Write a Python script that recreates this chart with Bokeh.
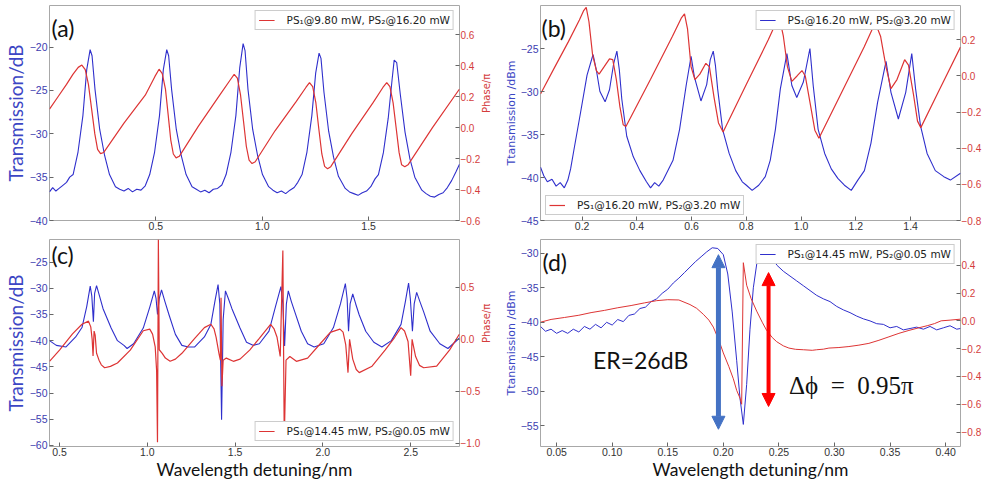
import math
from bokeh.plotting import figure
from bokeh.models import (Range1d, LinearAxis, FixedTicker, Legend, LegendItem, Label,
                          Arrow, NormalHead, CustomJSTickFormatter)
from bokeh.layouts import column, row
from bokeh.embed import file_html
from bokeh.resources import INLINE

# ---------------- data: panel (a) ----------------
a_blue_x = [0.000, 0.015, 0.030, 0.045, 0.060, 0.080, 0.095, 0.111, 0.134, 0.157, 0.175, 0.191, 0.200, 0.214,
            0.236, 0.259, 0.282, 0.310, 0.330, 0.350, 0.370, 0.390, 0.410, 0.430, 0.450, 0.471, 0.494, 0.517,
            0.535, 0.551, 0.560, 0.574, 0.596, 0.619, 0.642, 0.670, 0.690, 0.710, 0.730, 0.750, 0.770, 0.790,
            0.810, 0.830, 0.853, 0.876, 0.894, 0.910, 0.919, 0.933, 0.955, 0.978, 1.001, 1.030, 1.050, 1.070,
            1.090, 1.110, 1.130, 1.150, 1.167, 1.187, 1.210, 1.233, 1.251, 1.267, 1.276, 1.290, 1.312, 1.335,
            1.358, 1.390, 1.410, 1.430, 1.450, 1.470, 1.490, 1.510, 1.530, 1.546, 1.569, 1.592, 1.610, 1.620,
            1.632, 1.649, 1.671, 1.694, 1.717, 1.750, 1.770, 1.790, 1.810, 1.830, 1.850, 1.870, 1.890, 1.910,
            1.927]
a_blue_db = [-36.7, -36.2, -36.6, -36.3, -36.0, -35.6, -35.0, -34.7, -32.1, -27.9, -22.6, -20.3, -21.0, -24.9,
             -29.5, -32.5, -34.7, -36.1, -36.4, -36.6, -36.3, -36.7, -36.4, -36.5, -36.0, -34.7, -32.1, -27.9,
             -22.6, -20.3, -21.0, -24.9, -29.5, -32.5, -34.7, -36.1, -36.4, -36.7, -36.5, -36.8, -36.4, -36.3,
             -35.9, -34.7, -32.1, -27.9, -22.4, -19.6, -20.4, -24.9, -29.5, -32.5, -34.7, -36.1, -36.5, -36.8,
             -36.6, -36.9, -36.5, -36.2, -35.6, -34.7, -32.1, -27.9, -23.0, -20.7, -21.3, -25.2, -29.7, -32.7,
             -34.9, -36.3, -36.7, -36.9, -37.1, -36.8, -36.6, -36.1, -35.2, -34.7, -32.2, -28.2, -23.8, -21.5,
             -21.8, -25.5, -29.8, -32.9, -35.0, -36.5, -36.9, -37.2, -37.3, -37.0, -36.8, -36.2, -35.4, -34.4,
             -33.5]
a_red_x = [0.000, 0.040, 0.080, 0.110, 0.135, 0.152, 0.168, 0.183, 0.198, 0.213, 0.226, 0.240, 0.255, 0.350,
           0.450, 0.495, 0.515, 0.530, 0.545, 0.558, 0.570, 0.582, 0.595, 0.610, 0.700, 0.800, 0.850, 0.868,
           0.883, 0.898, 0.912, 0.925, 0.938, 0.952, 0.967, 1.060, 1.160, 1.205, 1.222, 1.237, 1.252, 1.266,
           1.280, 1.293, 1.307, 1.322, 1.420, 1.520, 1.567, 1.585, 1.600, 1.615, 1.630, 1.643, 1.655, 1.670,
           1.685, 1.800, 1.927]
a_red_ph = [0.120, 0.200, 0.280, 0.345, 0.390, 0.405, 0.375, 0.280, 0.120, -0.040, -0.140, -0.168, -0.160, 0.030,
            0.210, 0.330, 0.378, 0.350, 0.250, 0.080, -0.080, -0.170, -0.195, -0.185, 0.010, 0.210, 0.310, 0.345,
            0.320, 0.210, 0.040, -0.120, -0.210, -0.232, -0.220, -0.020, 0.170, 0.260, 0.292, 0.265, 0.160, -0.010,
            -0.170, -0.250, -0.265, -0.252, -0.040, 0.160, 0.260, 0.292, 0.265, 0.160, -0.010, -0.160, -0.240, -0.253,
            -0.240, 0.000, 0.250]

# ---------------- data: panel (b) ----------------
b_blue_x = [0.048, 0.060, 0.073, 0.090, 0.105, 0.120, 0.135, 0.148, 0.158, 0.170, 0.194, 0.218, 0.240, 0.252,
            0.265, 0.284, 0.300, 0.315, 0.327, 0.336, 0.345, 0.363, 0.387, 0.411, 0.435, 0.450, 0.465, 0.480,
            0.496, 0.532, 0.556, 0.580, 0.598, 0.610, 0.634, 0.655, 0.668, 0.679, 0.687, 0.695, 0.713, 0.737,
            0.761, 0.785, 0.800, 0.821, 0.845, 0.869, 0.887, 0.906, 0.924, 0.948, 0.966, 0.984, 1.008, 1.032,
            1.044, 1.062, 1.086, 1.110, 1.134, 1.158, 1.183, 1.207, 1.231, 1.255, 1.279, 1.310, 1.328, 1.355,
            1.382, 1.404, 1.418, 1.436, 1.460, 1.490, 1.521, 1.545, 1.582]
b_blue_db = [-38.8, -39.8, -40.5, -40.2, -41.0, -40.6, -41.2, -40.3, -39.0, -36.8, -32.5, -28.1, -25.7, -27.5,
             -30.0, -31.2, -29.8, -26.8, -25.3, -27.5, -30.9, -35.2, -37.6, -39.2, -40.5, -41.2, -40.6, -41.0,
             -40.3, -38.0, -34.4, -29.3, -25.9, -28.3, -31.1, -29.2, -26.3, -25.3, -27.0, -29.7, -34.4, -37.2,
             -39.2, -40.5, -40.9, -41.5, -40.9, -39.9, -38.0, -34.4, -29.7, -25.6, -29.3, -30.7, -28.9, -25.0,
             -29.3, -34.4, -37.2, -39.0, -40.1, -40.9, -41.5, -40.3, -39.2, -36.0, -31.3, -26.5, -30.1, -33.2,
             -30.1, -25.6, -29.7, -34.0, -37.2, -39.2, -39.9, -40.3, -39.5]
b_red_x = [0.048, 0.100, 0.150, 0.190, 0.205, 0.215, 0.225, 0.238, 0.252, 0.262, 0.280, 0.300, 0.312, 0.325,
           0.338, 0.350, 0.360, 0.450, 0.530, 0.562, 0.574, 0.585, 0.598, 0.612, 0.630, 0.652, 0.665, 0.682,
           0.698, 0.715, 0.800, 0.880, 0.910, 0.920, 0.935, 0.950, 0.966, 0.985, 1.003, 1.015, 1.035, 1.050,
           1.065, 1.150, 1.230, 1.260, 1.272, 1.290, 1.310, 1.328, 1.350, 1.378, 1.392, 1.410, 1.425, 1.437,
           1.500, 1.582]
b_red_ph = [-0.100, 0.049, 0.190, 0.310, 0.360, 0.380, 0.300, 0.120, 0.030, 0.010, 0.050, 0.095, 0.090, -0.020,
            -0.170, -0.270, -0.280, -0.018, 0.220, 0.320, 0.343, 0.260, 0.050, -0.020, 0.010, 0.070, 0.050, -0.120,
            -0.260, -0.310, -0.046, 0.200, 0.300, 0.326, 0.220, 0.050, -0.030, 0.000, 0.030, 0.000, -0.170, -0.300,
            -0.345, -0.085, 0.160, 0.260, 0.289, 0.220, 0.050, -0.070, -0.020, 0.090, 0.060, -0.100, -0.250, -0.286,
            -0.092, 0.160]

# ---------------- data: panel (c) ----------------
c_blue_x = [0.443, 0.482, 0.537, 0.592, 0.628, 0.655, 0.675, 0.684, 0.693, 0.700, 0.711, 0.728, 0.748, 0.794,
            0.830, 0.867, 0.885, 0.922, 0.977, 1.015, 1.040, 1.050, 1.058, 1.068, 1.081, 1.100, 1.124, 1.160,
            1.197, 1.233, 1.270, 1.325, 1.362, 1.385, 1.403, 1.413, 1.423, 1.432, 1.445, 1.462, 1.482, 1.528,
            1.565, 1.602, 1.638, 1.693, 1.730, 1.761, 1.772, 1.782, 1.792, 1.803, 1.820, 1.840, 1.877, 1.913,
            1.950, 2.005, 2.060, 2.100, 2.128, 2.138, 2.146, 2.155, 2.170, 2.187, 2.207, 2.244, 2.290, 2.336,
            2.390, 2.445, 2.470, 2.488, 2.498, 2.510, 2.520, 2.534, 2.552, 2.574, 2.611, 2.666, 2.712, 2.778]
c_blue_db = [-40.0, -40.9, -41.2, -39.3, -37.5, -33.5, -29.6, -31.5, -36.4, -31.0, -29.5, -31.5, -33.9, -37.6,
             -40.0, -40.9, -41.5, -40.6, -37.6, -33.5, -30.5, -32.0, -35.0, -32.0, -30.3, -32.5, -35.1, -38.8,
             -40.9, -41.2, -41.2, -39.3, -36.9, -32.5, -29.3, -33.0, -55.1, -36.0, -30.5, -32.0, -33.9, -37.6,
             -40.3, -40.9, -40.6, -38.2, -33.5, -29.7, -33.0, -41.0, -33.0, -30.5, -32.5, -34.5, -38.2, -40.6,
             -41.2, -40.6, -37.5, -33.0, -29.1, -32.0, -38.2, -33.0, -31.1, -33.0, -35.1, -38.2, -40.3, -41.2,
             -40.0, -36.9, -32.5, -29.0, -32.0, -38.2, -33.0, -30.8, -32.5, -34.5, -38.2, -40.6, -41.5, -39.5]
c_red_x = [0.443, 0.500, 0.574, 0.628, 0.665, 0.678, 0.686, 0.691, 0.697, 0.703, 0.711, 0.725, 0.738, 0.757,
           0.790, 0.830, 0.903, 0.977, 1.014, 1.030, 1.045, 1.053, 1.058, 1.063, 1.068, 1.085, 1.103, 1.130,
           1.160, 1.197, 1.270, 1.325, 1.362, 1.380, 1.392, 1.408, 1.416, 1.420, 1.425, 1.432, 1.450, 1.490,
           1.528, 1.583, 1.638, 1.702, 1.722, 1.739, 1.757, 1.772, 1.780, 1.790, 1.812, 1.849, 1.913, 1.986,
           2.042, 2.097, 2.115, 2.130, 2.143, 2.152, 2.170, 2.190, 2.207, 2.280, 2.354, 2.409, 2.445, 2.465,
           2.485, 2.500, 2.508, 2.528, 2.550, 2.574, 2.648, 2.721, 2.778]
c_red_ph = [-0.211, -0.103, 0.052, 0.145, 0.175, 0.120, 0.000, -0.160, 0.080, 0.040, -0.134, -0.200, -0.245, -0.273,
            -0.260, -0.227, -0.103, 0.083, 0.098, 0.050, -0.072, -0.300, -0.990, 0.960, -0.100, -0.134, -0.180, -0.211,
            -0.190, -0.134, 0.010, 0.113, 0.145, 0.100, 0.020, -0.134, -0.200, 0.400, -0.450, -0.200, -0.180, -0.211,
            -0.190, -0.103, 0.010, 0.145, 0.100, 0.020, -0.165, 0.855, -0.970, -0.200, -0.165, -0.211, -0.180, -0.040,
            0.067, 0.098, 0.070, -0.050, -0.320, 0.000, -0.190, -0.290, -0.320, -0.258, -0.103, 0.020, 0.113, 0.080,
            -0.020, -0.350, 0.000, -0.165, -0.250, -0.273, -0.258, -0.103, 0.052]

# ---------------- data: panel (d) ----------------
d_blue_x = [0.0355, 0.040, 0.045, 0.050, 0.055, 0.060, 0.065, 0.070, 0.075, 0.080, 0.085, 0.090, 0.095, 0.100,
            0.105, 0.110, 0.115, 0.120, 0.125, 0.130, 0.135, 0.140, 0.145, 0.150, 0.155, 0.160, 0.165, 0.170,
            0.175, 0.180, 0.185, 0.190, 0.195, 0.200, 0.204, 0.208, 0.212, 0.215, 0.218, 0.221, 0.224, 0.227,
            0.231, 0.236, 0.242, 0.248, 0.254, 0.260, 0.266, 0.272, 0.278, 0.284, 0.290, 0.296, 0.302, 0.308,
            0.314, 0.320, 0.326, 0.332, 0.338, 0.344, 0.350, 0.356, 0.362, 0.368, 0.374, 0.380, 0.386, 0.392,
            0.398, 0.404, 0.410, 0.4134]
d_blue_db = [-40.6, -41.3, -41.0, -41.6, -41.2, -41.6, -41.0, -41.4, -40.6, -41.0, -40.3, -40.8, -40.0, -40.4,
             -39.6, -39.9, -39.0, -38.8, -38.0, -37.8, -37.0, -36.6, -35.8, -35.2, -34.3, -33.6, -32.8, -32.0,
             -31.2, -30.5, -29.8, -29.2, -29.3, -30.2, -33.0, -38.5, -45.5, -51.0, -54.8, -49.0, -41.0, -35.0,
             -30.5, -28.8, -29.5, -31.7, -32.6, -33.3, -34.0, -34.7, -35.4, -36.1, -36.6, -37.0, -37.7, -38.2,
             -38.6, -39.1, -39.5, -39.8, -40.2, -40.3, -40.8, -40.6, -41.1, -40.9, -40.7, -41.0, -40.6, -41.1,
             -40.8, -40.5, -41.0, -40.9]
d_red_x = [0.0355, 0.045, 0.057, 0.070, 0.081, 0.093, 0.105, 0.117, 0.129, 0.140, 0.150, 0.160, 0.170, 0.176,
           0.182, 0.187, 0.191, 0.196, 0.200, 0.205, 0.209, 0.212, 0.215, 0.2165, 0.218, 0.221, 0.225, 0.230,
           0.235, 0.239, 0.244, 0.248, 0.254, 0.259, 0.265, 0.272, 0.280, 0.284, 0.290, 0.295, 0.304, 0.313,
           0.322, 0.331, 0.340, 0.349, 0.358, 0.367, 0.376, 0.384, 0.390, 0.396, 0.404, 0.4134]
d_red_ph = [-0.010, 0.010, 0.024, 0.040, 0.059, 0.075, 0.094, 0.110, 0.129, 0.145, 0.152, 0.150, 0.117, 0.090,
            0.047, 0.005, -0.045, -0.140, -0.231, -0.330, -0.417, -0.500, -0.556, -0.600, 0.418, 0.256, 0.160, 0.070,
            -0.010, -0.069, -0.120, -0.150, -0.180, -0.196, -0.205, -0.208, -0.212, -0.208, -0.204, -0.196, -0.192, -0.185,
            -0.175, -0.162, -0.140, -0.115, -0.090, -0.069, -0.050, -0.034, -0.020, 0.000, 0.005, 0.012]
# annotation arrows of (d): x, lower end, upper end (left axis, dB)
d_arrow_x = [0.1956, 0.2407]
d_arrow_lo = [-55.5, -52.2]
d_arrow_hi = [-30.2, -32.8]

# ---------------- texts ----------------
legend_a = "PS\u2081@9.80 mW, PS\u2082@16.20 mW"
legend_b = "PS\u2081@16.20 mW, PS\u2082@3.20 mW"
legend_c = "PS\u2081@14.45 mW, PS\u2082@0.05 mW"
legend_d = "PS\u2081@14.45 mW, PS\u2082@0.05 mW"

BLUE = "#2f2fcc"
RED = "#dd3434"
TICK_BLUE = "#3c3cb0"
TICK_RED = "#d43c3c"


def fmt(dec):
    return CustomJSTickFormatter(code="return tick.toFixed(%d).replace('-', '\\u2212');" % dec)


def style_axis(ax, color, ticks, dec, size="10.5px", standoff=2):
    ax.ticker = FixedTicker(ticks=ticks)
    ax.formatter = fmt(dec)
    ax.axis_line_color = None
    ax.major_tick_in = 4
    ax.major_tick_out = 0
    ax.major_tick_line_color = "#666666"
    ax.minor_tick_line_color = None
    ax.major_label_text_font = "Liberation Sans"
    ax.major_label_text_font_size = size
    ax.major_label_text_color = color
    ax.major_label_standoff = standoff
    ax.axis_label_text_font_style = "normal"
    ax.axis_label_standoff = 1


def make_panel(width, height, bl, br, bt, bb, xr, yl, yr, xt, xdec, ylt, yrt, yrdec,
               ylabel, ylabel_font, ylabel_size, xlabel, rlabel):
    p = figure(width=width, height=height, x_range=Range1d(*xr), y_range=Range1d(*yl),
               output_backend="svg", toolbar_location=None,
               min_border_left=bl, min_border_right=br, min_border_top=bt, min_border_bottom=bb)
    p.extra_y_ranges = {"ph": Range1d(*yr)}
    p.grid.visible = False
    p.outline_line_color = "#a8a8a8"
    p.outline_line_width = 1
    p.background_fill_color = "white"
    p.border_fill_color = "white"
    xa = p.xaxis[0]
    style_axis(xa, "#333333", xt, xdec, "10.5px", 1)
    if xlabel:
        xa.axis_label = xlabel
        xa.axis_label_text_font = "Lato"
        xa.axis_label_text_font_size = "17.5px"
        xa.axis_label_text_color = "#111111"
        xa.axis_label_standoff = 0
    ya = p.yaxis[0]
    style_axis(ya, TICK_BLUE, ylt, 0)
    ya.axis_label = ylabel
    ya.axis_label_text_font = ylabel_font
    ya.axis_label_text_font_size = ylabel_size
    ya.axis_label_text_color = "#3c46c4"
    ya.axis_label_standoff = 0
    ra = LinearAxis(y_range_name="ph")
    style_axis(ra, TICK_RED, yrt, yrdec, "10px", 1)
    if rlabel:
        ra.axis_label = rlabel
        ra.axis_label_text_font = "DejaVu Sans"
        ra.axis_label_text_font_size = "10px"
        ra.axis_label_text_color = TICK_RED
        ra.axis_label_standoff = 3
        try:
            ra.axis_label_orientation = math.pi / 2
        except Exception:
            pass
    p.add_layout(ra, "right")
    return p


def panel_letter(p, txt, xr, yr_top, dx, dy):
    p.add_layout(Label(x=xr, y=yr_top, x_offset=dx, y_offset=-dy, text=txt, text_font="Lato",
                       text_font_size="23px", text_color="#111111", text_baseline="top", text_align="left"))


def add_legend(p, rend, txt, loc, level=None):
    leg = Legend(items=[LegendItem(label=txt, renderers=[rend])], location=loc,
                 label_text_font="DejaVu Sans", label_text_font_size="10.5px", label_text_color="#222222",
                 label_height=12, glyph_height=12, glyph_width=16, label_standoff=12,
                 padding=3, margin=5, spacing=0, border_line_color="#9a9a9a", border_line_width=1,
                 background_fill_color="white", background_fill_alpha=1.0)
    if level:
        leg.level = level
    p.add_layout(leg)


PHASE_LABEL = "Phase/\u03c0"

# ---------------- panel (a) ----------------
xa_r = (0.0, 1.927)
pa = make_panel(500, 238, 40, 30, 1, 18, xa_r, (-40, -15.2), (-0.6, 0.79),
                [0.5, 1.0, 1.5], 1, [-40, -35, -30, -25, -20], [-0.6, -0.4, -0.2, 0.0, 0.2, 0.4, 0.6], 1,
                "Transmission/dB", "Lato", "19px", None, PHASE_LABEL)
pa.line(a_blue_x, a_blue_db, line_color=BLUE, line_width=1.1)
ra_line = pa.line(a_red_x, a_red_ph, line_color=RED, line_width=1.2, y_range_name="ph")
add_legend(pa, ra_line, legend_a, "top_right")
panel_letter(pa, "(a)", xa_r[0], -15.2, 2, 8)

# ---------------- panel (b) ----------------
xb_r = (0.048, 1.582)
pb = make_panel(484, 238, 40, 0, 5, 18, xb_r, (-45, -20), (-0.8, 0.39),
                [0.2, 0.4, 0.6, 0.8, 1.0, 1.2, 1.4], 1, [-45, -40, -35, -30, -25],
                [-0.8, -0.6, -0.4, -0.2, 0.0, 0.2], 1,
                "Ttansmission /dBm", "DejaVu Sans", "11px", None, None)
rb_blue = pb.line(b_blue_x, b_blue_db, line_color=BLUE, line_width=1.1)
rb_red = pb.line(b_red_x, b_red_ph, line_color=RED, line_width=1.2, y_range_name="ph")
add_legend(pb, rb_blue, legend_b, "top_right", level="underlay")
add_legend(pb, rb_red, legend_b, "bottom_left")
panel_letter(pb, "(b)", xb_r[0], -20, 1, 8)

# ---------------- panel (c) ----------------
xc_r = (0.443, 2.778)
pc = make_panel(500, 244, 40, 30, 1, 30, xc_r, (-60.2, -20.7), (-1.03, 0.96),
                [0.5, 1.0, 1.5, 2.0, 2.5], 1, [-60, -55, -50, -45, -40, -35, -30, -25],
                [-1.0, -0.5, 0.0, 0.5], 1,
                "Transmission/dB", "Lato", "19px", "Wavelength detuning/nm", PHASE_LABEL)
pc.line(c_blue_x, c_blue_db, line_color=BLUE, line_width=1.1)
rc_red = pc.line(c_red_x, c_red_ph, line_color=RED, line_width=1.2, y_range_name="ph")
add_legend(pc, rc_red, legend_c, "bottom_right")
panel_letter(pc, "(c)", xc_r[0], -20.7, 2, 1)

# ---------------- panel (d) ----------------
xd_r = (0.0355, 0.4134)
pd = make_panel(484, 244, 40, 0, 0, 30, xd_r, (-58, -28), (-0.904, 0.585),
                [0.05, 0.10, 0.15, 0.20, 0.25, 0.30, 0.35, 0.40], 2, [-55, -50, -45, -40, -35, -30],
                [-0.8, -0.6, -0.4, -0.2, 0.0, 0.2, 0.4], 1,
                "Ttansmission /dBm", "DejaVu Sans", "11px", "Wavelength detuning/nm", None)
rd_blue = pd.line(d_blue_x, d_blue_db, line_color=BLUE, line_width=1.0)
pd.line(d_red_x, d_red_ph, line_color=RED, line_width=1.0, y_range_name="ph")
add_legend(pd, rd_blue, legend_d, "top_right")
panel_letter(pd, "(d)", xd_r[0], -28, 2, 8)
arrow_colors = ["#4472C4", "#FF0000"]
arrow_widths = [5, 4]
for ax_, lo, hi, col, w in zip(d_arrow_x, d_arrow_lo, d_arrow_hi, arrow_colors, arrow_widths):
    pd.add_layout(Arrow(x_start=ax_, y_start=lo, x_end=ax_, y_end=hi, line_color=col, line_width=w,
                        start=NormalHead(size=13, fill_color=col, line_color=col),
                        end=NormalHead(size=13, fill_color=col, line_color=col)))
pd.add_layout(Label(x=0.0827, y=-45.4, text="ER=26dB", text_font="Lato", text_font_size="23px",
                    text_color="#111111", text_baseline="alphabetic"))
pd.add_layout(Label(x=0.259, y=-49.1, text="\u0394\u03d5\u2002=\u20020.95\u03c0", text_font="Liberation Serif",
                    text_font_size="25px", text_color="#111111", text_baseline="alphabetic"))

layout = column(row(pa, pb), row(pc, pd))
open("out.html", "w").write(file_html(layout, INLINE))
